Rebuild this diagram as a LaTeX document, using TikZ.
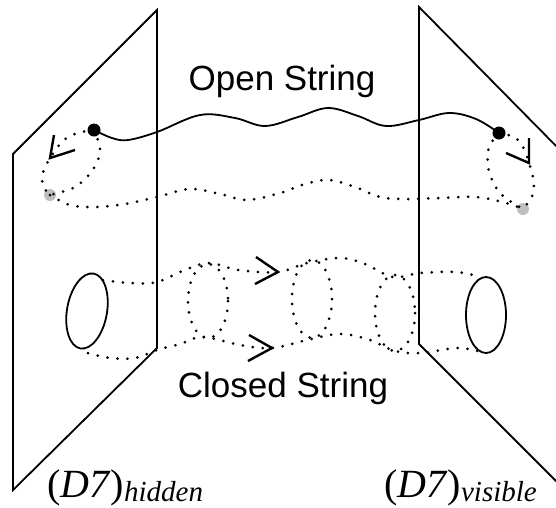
\documentclass[tikz,border=0pt]{standalone}
\usepackage{fontspec}
\setmainfont{Liberation Serif}
\setsansfont{Liberation Sans}
\tikzset{%
  % line styles for the branes, the strings and their marks
      plane/.style = {line width=1.8pt, line join=miter},
    openstr/.style = {line width=1.8pt},
    dotpath/.style = {line width=3pt, line cap=round,
                      dash pattern=on 0pt off 10pt},
       vtip/.style = {line width=2.4pt, line join=miter},
     tubend/.style = {line width=1.8pt},
      endpt/.style = {circle, fill=black, inner sep=0pt, minimum size=13pt},
    ghostpt/.style = {circle, fill=black!25, inner sep=0pt, minimum size=12pt},
      title/.style = {font=\sffamily\fontsize{35}{40}\selectfont,
                      inner sep=0pt, anchor=base},
      brane/.style = {font=\fontsize{40}{46}\selectfont,
                      inner sep=0pt, anchor=base west}
}
\newcommand{\branesub}[1]{\raisebox{-4pt}{\fontsize{29}{31}\selectfont\textit{#1}}}

\begin{document}
\begin{tikzpicture}[x=1pt, y=-1pt]
  \clip (0,0) rectangle (556,507);
  % the two branes
  \draw[plane] (157,10) -- (13,154) -- (13,490) -- (157,348) -- cycle;
  \draw[plane] (563,153) -- (419,7) -- (419,344) -- (563,488);

  % open string: end points and the loops they sweep
  \node (lgray) [ghostpt] at (50,195) {};
  \node (rgray) [ghostpt] at (523,209) {};
  \draw[dotpath] plot[smooth, tension=0.6] coordinates {(94,130) (78,133) (64,140)
    (50,158) (43,173) (43,186) (50,195)};
  \draw[dotpath] plot[smooth, tension=0.6] coordinates {(94,130) (100,148) (97,162)
    (88,176) (73,188) (50,195)};
  \draw[dotpath] plot[smooth, tension=0.6] coordinates {(499,133) (489,147) (488,165)
    (493,182) (503,196) (523,209)};
  \draw[dotpath] plot[smooth, tension=0.6] coordinates {(499,133) (514,137) (523,147)
    (529,163) (533,177) (533,194) (523,209)};
  \draw[dotpath] plot[smooth, tension=0.6] coordinates {(50,195) (70,205) (95,207)
    (125,204) (157,197) (190,189) (220,194) (247,200) (280,193) (305,184) (329,180)
    (355,187) (380,197) (405,199) (440,198) (476,197) (506,203) (523,209)};
  \draw[openstr] plot[smooth, tension=0.6] coordinates {(94,130) (112,138) (128,140)
    (157,132) (200,115) (235,118) (265,126) (298,117) (328,108) (358,116) (386,126)
    (419,120) (449,113) (476,119) (499,133)};
  \node (lend) [endpt] at (94,130) {};
  \node (rend) [endpt] at (499,133) {};
  \draw[vtip] (54,135) -- (50,158) -- (75,150);
  \draw[vtip] (529,138) -- (529,163) -- (506,153);

  % closed string: the tube between the two circles
  \draw[tubend, rotate around={-10:(87,311)}] (87,311) ellipse [x radius=20, y radius=38];
  \draw[tubend] (486,315) ellipse [x radius=20, y radius=38];
  \draw[dotpath] plot[smooth, tension=0.6] coordinates {(103,280) (130,283) (157,282)
    (187,269) (210,263) (238,270) (278,272) (307,263) (340,258) (365,264) (393,277)
    (420,273) (456,272) (476,276)};
  \draw[dotpath] plot[smooth, tension=0.6] coordinates {(88,353) (110,358) (135,358)
    (157,350) (180,344) (203,337) (240,345) (272,348) (307,340) (340,334) (370,340)
    (395,351) (422,353) (456,348) (478,351)};
  \draw[dotpath] (208,301) ellipse [x radius=20, y radius=37];
  \draw[dotpath] (312,299) ellipse [x radius=20, y radius=39];
  \draw[dotpath] (395,313) ellipse [x radius=20, y radius=38];
  \draw[vtip] (256,257) -- (278,272) -- (255,284);
  \draw[vtip] (249,335) -- (272,348) -- (248,361);

  % labels
  \node (open)    [title] at (282,90)  {Open String};
  \node (closed)  [title] at (283,397) {Closed String};
  \node (hidden)  [brane] at (47,497)  {(\textit{D7})\branesub{hidden}};
  \node (visible) [brane] at (384,497) {(\textit{D7})\branesub{visible}};
\end{tikzpicture}
\end{document}
